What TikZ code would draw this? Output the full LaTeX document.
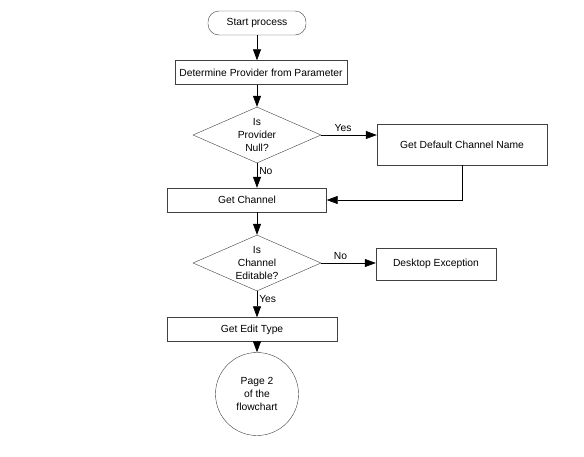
\documentclass[tikz,border=0pt]{standalone}
\usepackage{fontspec}
\setmainfont{Liberation Sans}
\usetikzlibrary{arrows.meta,shapes.geometric}

\begin{document}
\begin{tikzpicture}[x=1pt,y=-1pt,
  every node/.style={font=\fontsize{10.3}{13}\selectfont},
  flowbox/.style={draw=black!75,rectangle,minimum height=24pt,inner sep=0pt},
  terminal/.style={draw=black!75,rectangle,rounded corners=11pt,minimum width=98pt,minimum height=24pt,inner sep=0pt},
  decide/.style={draw=black!75,diamond,aspect=2.3,minimum width=128pt,minimum height=56pt,inner sep=0pt,align=center},
  pagelink/.style={draw=black!75,circle,minimum size=83pt,inner sep=0pt,align=center},
  flow/.style={-{Triangle[length=11pt,width=8pt]},line width=0.6pt}]
  \useasboundingbox (0,0) rectangle (584,456);
  % main column
  \node[terminal] (start) at (257,23) {Start process};
  \node[flowbox,minimum width=172pt] (det) at (261,72.5) {Determine Provider from Parameter};
  \node[decide] (prov) at (257,135) {Is\\Provider\\Null?};
  \node[flowbox,minimum width=170pt,minimum height=41pt] (dflt) at (462,144.5) {Get Default Channel Name};
  \node[flowbox,minimum width=159pt] (chan) at (247,200) {Get Channel};
  \node[decide] (edit) at (257,263) {Is\\Channel\\Editable?};
  \node[flowbox,minimum width=120pt,minimum height=32pt] (exc) at (436,264) {Desktop Exception};
  \node[flowbox,minimum width=170pt] (etype) at (252,329.5) {Get Edit Type};
  \node[pagelink] (pg) at (257,394) {Page 2\\of the\\flowchart};
  % connectors
  \draw[flow] (start) -- (start |- det.north);
  \draw[flow] (det.south -| prov.north) -- (prov.north);
  \draw[flow] (prov.east) -- node[above,inner sep=3pt,xshift=-6pt]{Yes} (prov.east -| dflt.west);
  \draw[flow] (prov.south) -- node[right,pos=0.3,inner sep=2pt]{No} (prov.south |- chan.north);
  \draw[flow] (dflt.south) |- (chan.east);
  \draw[flow] (chan.south -| edit.north) -- (edit.north);
  \draw[flow] (edit.east) -- node[above,inner sep=3pt,xshift=-8pt]{No} (edit.east -| exc.west);
  \draw[flow] (edit.south) -- node[right,pos=0.3,inner sep=2pt]{Yes} (edit.south |- etype.north);
  \draw[flow] (etype.south -| pg.north) -- (pg.north);
\end{tikzpicture}
\end{document}
